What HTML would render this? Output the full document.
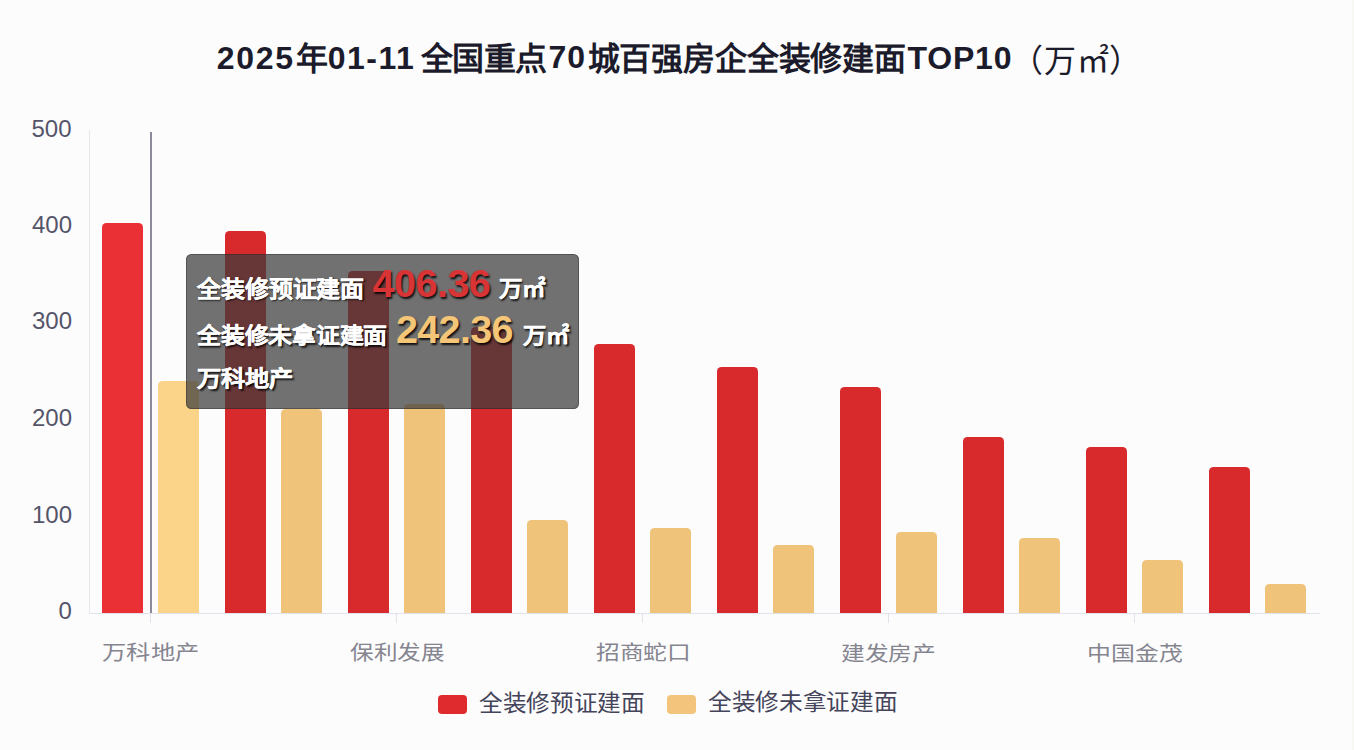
<!DOCTYPE html>
<html lang="zh-CN"><head><meta charset="utf-8">
<style>
html,body{margin:0;padding:0;}
body{width:1354px;height:750px;position:relative;overflow:hidden;background:#fcfcfd;font-family:"Liberation Sans",sans-serif;}
.ts{position:absolute;font-size:32px;font-weight:bold;color:#1b1b2b;line-height:44px;white-space:nowrap;transform-origin:0 50%;}
.ts.reg{font-weight:normal;}
.bar{position:absolute;border-radius:4.5px 4.5px 0 0;}
.yl{position:absolute;font-size:24px;line-height:28px;color:#55556a;white-space:nowrap;transform-origin:0 50%;}
.xl{position:absolute;font-size:24px;line-height:32px;color:#85858f;font-weight:300;white-space:nowrap;transform-origin:0 50%;}
.tick{position:absolute;top:613px;width:1px;height:10px;background:#e0e3ea;}
.axisx{position:absolute;left:88.5px;width:1231px;top:613px;height:1px;background:#e0e3ea;}
.axisy{position:absolute;left:88.5px;width:1.5px;top:130px;height:483px;background:#e6e6eb;}
.ptr{position:absolute;left:150.3px;width:1.5px;top:131.5px;height:481.5px;background:#8a8a9a;}
.leg{position:absolute;font-size:24px;line-height:32px;color:#44445a;white-space:nowrap;transform-origin:0 50%;}
.sw{position:absolute;width:29.0px;height:18.7px;border-radius:4px;top:695px;}
.tip{position:absolute;left:186.4px;top:253.9px;width:393.1px;height:154.79999999999998px;border-radius:5.5px;background:rgba(60,60,60,0.72);box-shadow:inset 0 0 0 1px rgba(30,30,30,0.35);}
.tt{position:absolute;color:#fff;font-weight:bold;font-size:24px;line-height:40px;white-space:nowrap;text-shadow:1.5px 1.5px 2px rgba(0,0,0,0.85);-webkit-text-stroke:0.4px currentColor;transform-origin:0 50%;}
.tt.num{font-size:39.5px;-webkit-text-stroke:0;}
.tt.n1{color:#d83436;}
.tt.n2{color:#f5c678;}
</style></head><body>
<div class="ts" id="t0" style="left:216.8px;top:35.5px;letter-spacing:1.67px">2025</div>
<div class="ts" id="t1" style="left:295.5px;top:37.0px">年</div>
<div class="ts" id="t2" style="left:327.8px;top:35.5px;letter-spacing:1.45px">01-11</div>
<div class="ts" id="t3" style="left:421.1px;top:36.5px;letter-spacing:-0.75px">全国重点</div>
<div class="ts" id="t4" style="left:548.4px;top:35.25px;letter-spacing:1.0px">70</div>
<div class="ts" id="t5" style="left:587.7px;top:36.5px;letter-spacing:-0.19px">城百强房企全装修建面</div>
<div class="ts" id="t6" style="left:907.6px;top:35.5px;letter-spacing:0.76px">TOP10</div>
<div class="ts reg" id="t7" style="left:1011.2px;top:39.25px;letter-spacing:0.67px">（万㎡）</div>
<div class="axisy"></div>
<div class="yl" id="yl0" style="left:58.5px;top:596.75px">0</div>
<div class="yl" id="yl1" style="left:32.0px;top:500.95px">100</div>
<div class="yl" id="yl2" style="left:32.0px;top:404.25px">200</div>
<div class="yl" id="yl3" style="left:32.0px;top:307.45px">300</div>
<div class="yl" id="yl4" style="left:32.0px;top:210.7px">400</div>
<div class="yl" id="yl5" style="left:31.5px;top:115.2px">500</div>
<div class="bar" style="left:101.53px;top:222.80px;width:41.8px;height:390.50px;background:#ea3035"></div><div class="bar" style="left:157.57px;top:381.00px;width:41.8px;height:232.30px;background:#fcd489"></div><div class="bar" style="left:224.53px;top:231.30px;width:41.8px;height:382.00px;background:#d82a2c"></div><div class="bar" style="left:280.57px;top:409.20px;width:41.8px;height:204.10px;background:#f0c37a"></div><div class="bar" style="left:347.53px;top:270.80px;width:41.8px;height:342.50px;background:#d82a2c"></div><div class="bar" style="left:403.57px;top:404.20px;width:41.8px;height:209.10px;background:#f0c37a"></div><div class="bar" style="left:470.53px;top:326.70px;width:41.8px;height:286.60px;background:#d82a2c"></div><div class="bar" style="left:526.57px;top:519.80px;width:41.8px;height:93.50px;background:#f0c37a"></div><div class="bar" style="left:593.53px;top:344.10px;width:41.8px;height:269.20px;background:#d82a2c"></div><div class="bar" style="left:649.57px;top:528.30px;width:41.8px;height:85.00px;background:#f0c37a"></div><div class="bar" style="left:716.53px;top:366.80px;width:41.8px;height:246.50px;background:#d82a2c"></div><div class="bar" style="left:772.57px;top:545.05px;width:41.8px;height:68.25px;background:#f0c37a"></div><div class="bar" style="left:839.53px;top:387.25px;width:41.8px;height:226.05px;background:#d82a2c"></div><div class="bar" style="left:895.57px;top:531.80px;width:41.8px;height:81.50px;background:#f0c37a"></div><div class="bar" style="left:962.53px;top:437.20px;width:41.8px;height:176.10px;background:#d82a2c"></div><div class="bar" style="left:1018.57px;top:538.40px;width:41.8px;height:74.90px;background:#f0c37a"></div><div class="bar" style="left:1085.53px;top:446.80px;width:41.8px;height:166.50px;background:#d82a2c"></div><div class="bar" style="left:1141.57px;top:559.50px;width:41.8px;height:53.80px;background:#f0c37a"></div><div class="bar" style="left:1208.53px;top:467.20px;width:41.8px;height:146.10px;background:#d82a2c"></div><div class="bar" style="left:1264.57px;top:583.80px;width:41.8px;height:29.50px;background:#f0c37a"></div>
<div class="axisx"></div>
<div class="tick" style="left:149.9px"></div><div class="tick" style="left:395.9px"></div><div class="tick" style="left:642.0px"></div><div class="tick" style="left:888.0px"></div><div class="tick" style="left:1134.0px"></div>
<div class="xl" id="xl0" style="left:102.4px;top:637.3px;transform:scale(1.011,0.86)">万科地产</div>
<div class="xl" id="xl1" style="left:350.15px;top:637.4px;transform:scale(0.984,0.86)">保利发展</div>
<div class="xl" id="xl2" style="left:595.6px;top:637.2px;transform:scale(0.989,0.86)">招商蛇口</div>
<div class="xl" id="xl3" style="left:841.3px;top:637.6px;transform:scale(0.989,0.86)">建发房产</div>
<div class="xl" id="xl4" style="left:1087.25px;top:638.4px;transform:scale(0.995,0.86)">中国金茂</div>
<div class="ptr"></div>
<div class="sw" style="left:437.9px;background:#df2b2d"></div>
<div class="sw" style="left:666.5px;background:#f2c47c"></div>
<div class="leg" id="lg1" style="left:479.35px;top:686.7px;transform:scale(0.986,0.94)">全装修预证建面</div>
<div class="leg" id="lg2" style="left:707.85px;top:686.1px;transform:scale(0.986,0.94)">全装修未拿证建面</div>
<div class="tip"></div>
<div class="tt " id="p0" style="left:196.8px;top:268.6px;transform:scale(0.9955,0.94)">全装修预证建面</div>
<div class="tt num n1" id="p1" style="left:372.5px;top:262.95px;letter-spacing:-0.5px">406.36</div>
<div class="tt " id="p2" style="left:498.75px;top:268.9px;transform:scale(0.9754,0.91)">万㎡</div>
<div class="tt " id="p3" style="left:197.3px;top:315.5px;transform:scale(0.9908,0.91)">全装修未拿证建面</div>
<div class="tt num n2" id="p4" style="left:396.0px;top:308.85px;letter-spacing:-0.66px">242.36</div>
<div class="tt " id="p5" style="left:522.95px;top:315.75px;transform:scale(0.967,0.91)">万㎡</div>
<div class="tt " id="p6" style="left:196.6px;top:359.0px;transform:scale(1.0066,0.91)">万科地产</div>
<div style="position:absolute;right:0;top:0;width:2px;height:750px;background:#f7f7f3"></div>
</body></html>
